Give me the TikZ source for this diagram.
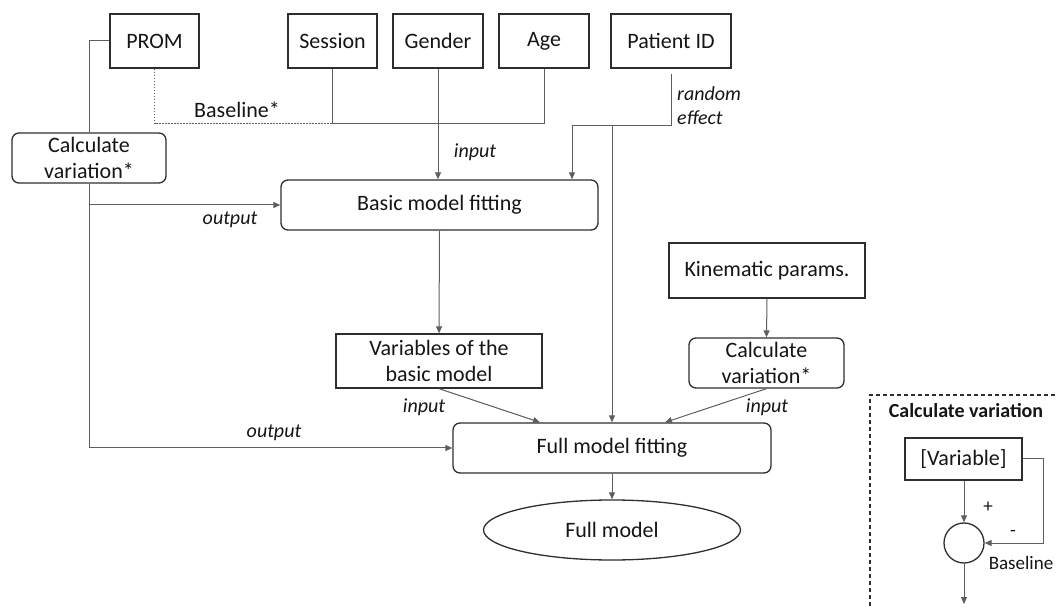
\documentclass[tikz,border=0pt]{standalone}
\usepackage{fontspec}
\setmainfont{Carlito}
\usetikzlibrary{arrows.meta,shapes.geometric,calc}
\definecolor{boxc}{HTML}{2E2E2E}
\definecolor{linec}{HTML}{5E5E5E}
\definecolor{txtc}{HTML}{151515}
\tikzset{
  base/.style={draw=boxc,line width=1.3pt,inner sep=0pt,text=txtc,font=\fontsize{22}{26}\selectfont,align=center},
  sqbox/.style={base,rectangle},
  rbox/.style={base,rectangle,rounded corners=7pt},
  conn/.style={draw=linec,line width=1pt},
  arr/.style={conn,-{Triangle[length=7pt,width=6pt]}},
  lbl/.style={text=txtc,font=\fontsize{20}{24}\selectfont\itshape,inner sep=0pt},
  small/.style={text=txtc,font=\fontsize{19}{23}\selectfont,inner sep=0pt},
}
\begin{document}
\begin{tikzpicture}[x=1pt,y=-1pt]
\useasboundingbox (0,0) rectangle (1058,609);
\clip (0,0) rectangle (1058,609);
% top inputs
\node[sqbox,minimum width=89pt,minimum height=54pt] (prom) at (154.5,41) {PROM};
\node[sqbox,minimum width=89pt,minimum height=54pt] (session) at (332.5,41) {Session};
\node[sqbox,minimum width=90pt,minimum height=54pt] (gender) at (438,41) {Gender};
\node[sqbox,minimum width=90pt,minimum height=54pt] (age) at (544,41) {Age};
\node[sqbox,minimum width=120pt,minimum height=54pt] (pid) at (671,41) {Patient ID};
% process nodes
\node[rbox,minimum width=154pt,minimum height=50pt] (cv1) at (89,158) {Calculate\\variation*};
\node[rbox,minimum width=317pt,minimum height=50pt] (basic) at (439.5,205) {Basic model fitting};
\node[sqbox,minimum width=206pt,minimum height=54pt] (vars) at (439,361) {Variables of the\\basic model};
\node[sqbox,minimum width=196pt,minimum height=55pt] (kin) at (767,270.5) {Kinematic params.};
\node[rbox,minimum width=155pt,minimum height=50pt] (cv2) at (766.5,363) {Calculate\\variation*};
\node[rbox,minimum width=318pt,minimum height=50pt] (full) at (612,448) {Full model fitting};
\node[base,ellipse,minimum width=257pt,minimum height=60pt] (fm) at (612,530) {Full model};
% junction coordinates
\coordinate (jb) at (332,124);
\coordinate (jx) at (572,126);
\coordinate (jp) at (671,126);
% PROM connections
\draw[conn] (prom.west) -| (cv1.north);
\draw[conn,dash pattern=on 1.5pt off 1.5pt] (prom.south) |- (jb);
\draw[conn] (session.south) |- (age.south |- jb) -- (age.south);
\draw[arr] (gender.south) -- (basic.north -| gender.south);
\node[lbl] at (475,152) {input};
\node[small,font=\fontsize{22}{26}\selectfont] at (237,110) {Baseline*};
% patient ID
\draw[arr] ([yshift=-5pt]pid.south) |- (jx) -- (basic.north -| jx);
\draw[arr] (full.north |- jp) -- (full.north);
\node[lbl,anchor=west,align=left] at (677,106) {random\\effect};
% outputs of cv1
\draw[arr] (cv1.south) |- (full.west);
\draw[arr] (cv1.south |- basic.west) -- (basic.west);
\node[lbl] at (230,220) {output};
\node[lbl] at (274,433) {output};
% basic to variables
\draw[arr] (basic.south) -- (vars.north);
\draw[arr] (vars.south) -- ([xshift=-72pt]full.north);
\node[lbl] at (424,407) {input};
% kinematic
\draw[arr] (kin.south) -- (cv2.north);
\draw[arr] (cv2.south) -- ([xshift=53pt]full.north);
\node[lbl] at (767,407) {input};
% full model
\draw[arr] (full.south) -- (fm.north);
% inset
\draw[draw=boxc,line width=1.3pt,dash pattern=on 4pt off 3pt] (870,620) -- (870,395) -- (1070,395);
\node[small,font=\fontsize{20}{24}\selectfont\bfseries] (title) at (966,411) {Calculate variation};
\node[sqbox,font=\fontsize{22}{26}\selectfont,minimum width=117pt,minimum height=42pt] (var) at (963.5,459) {[Variable]};
\node[draw=boxc,line width=1.3pt,circle,minimum size=40pt,inner sep=0pt] (circ) at (964,543) {};
\coordinate (fb) at (1043,543);
\coordinate (out) at (964,604);
\draw[arr] (var.south -| circ.north) -- (circ.north);
\draw[arr] (var.east) -| (fb) -- (circ.east);
\draw[arr] (circ.south) -- (out);
\node[small] at (988,507) {+};
\node[small] at (1013,533) {-};
\node[small] at (1021,563) {Baseline};
\end{tikzpicture}
\end{document}
